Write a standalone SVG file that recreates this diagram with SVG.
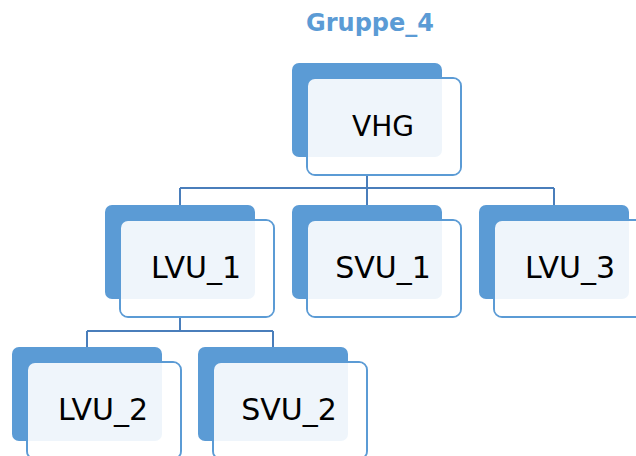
<svg xmlns="http://www.w3.org/2000/svg" width="636" height="456" viewBox="0 0 636 456">
  <style>
    .title { font-family: "DejaVu Sans", Verdana, sans-serif; font-weight: bold; font-size: 24px; fill: #5B9BD5; }
    .conn { fill: none; stroke: #4A7EBB; stroke-width: 2; }
    .edge { fill: #FFFFFF; stroke: #5B9BD5; stroke-width: 2; }
    .back { fill: #5B9BD5; }
    .veil { fill: #FFFFFF; fill-opacity: 0.9; }
    .label { font-family: "DejaVu Sans", Verdana, sans-serif; font-size: 30px; fill: #000000; text-anchor: middle; }
    .top { font-size: 28px; }
  </style>
  <defs>
    <!-- one org-chart box: outlined card under a solid tab, then a translucent face -->
    <g id="box">
      <rect class="edge" x="15" y="15" width="154" height="97" rx="8"/>
      <rect class="back" x="0" y="0" width="150" height="94" rx="7"/>
      <rect class="veil" x="16" y="16" width="152" height="95" rx="7"/>
    </g>
  </defs>

  <rect width="636" height="456" fill="#FFFFFF"/>
  <text class="title" x="370" y="31" text-anchor="middle">Gruppe_4</text>

  <g id="connectors">
    <path class="conn" d="M367,157 V188 M180,188 H554 M180,188 V205 M367,188 V205 M554,188 V205"/>
    <path class="conn" d="M180,299 V331 M87,331 H273 M87,331 V347 M273,331 V347"/>
  </g>

  <g id="node-vhg" transform="translate(292,63)">
    <use href="#box"/>
    <text class="label top" x="91" y="72.8">VHG</text>
  </g>
  <g id="node-lvu1" transform="translate(105,205)">
    <use href="#box"/>
    <text class="label" x="91" y="73.3">LVU_1</text>
  </g>
  <g id="node-svu1" transform="translate(292,205)">
    <use href="#box"/>
    <text class="label" x="91" y="73.3">SVU_1</text>
  </g>
  <g id="node-lvu3" transform="translate(479,205)">
    <use href="#box"/>
    <text class="label" x="91" y="73.3">LVU_3</text>
  </g>
  <g id="node-lvu2" transform="translate(12,347)">
    <use href="#box"/>
    <text class="label" x="91" y="73.3">LVU_2</text>
  </g>
  <g id="node-svu2" transform="translate(198,347)">
    <use href="#box"/>
    <text class="label" x="91" y="73.3">SVU_2</text>
  </g>
</svg>
